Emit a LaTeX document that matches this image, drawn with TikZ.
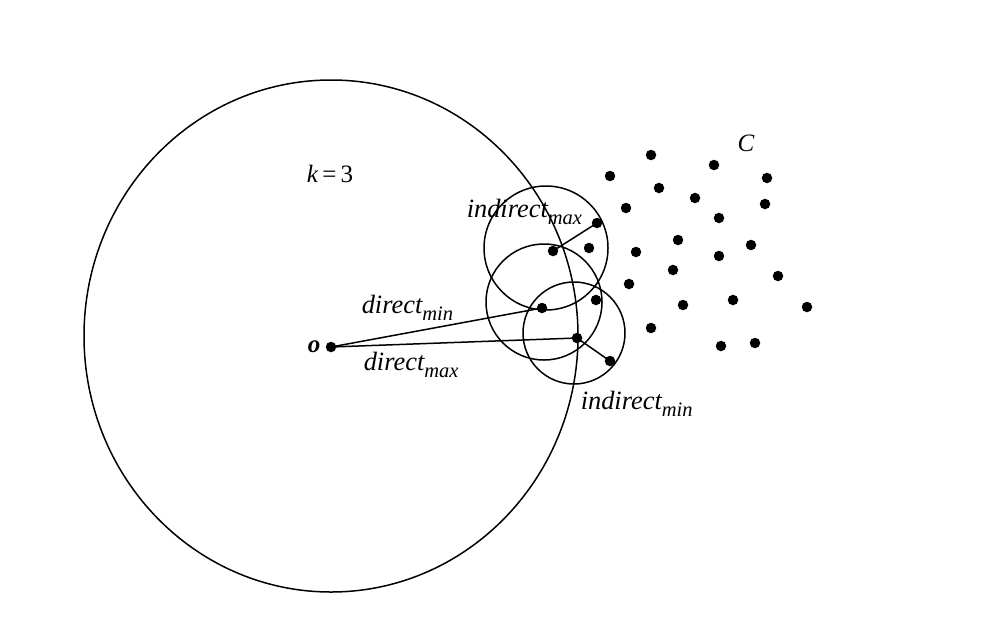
\documentclass[tikz,border=0pt]{standalone}
\usepackage{fontspec}
\setmainfont{Liberation Serif}
\newcommand\subl[2]{#1\raisebox{-7pt}{\fontsize{20.5}{22}\selectfont #2}}
\begin{document}
\begin{tikzpicture}[x=1pt,y=-1pt,line width=1.5pt,
  dot/.style={circle,fill=black,inner sep=0pt,minimum size=10.5pt},
  lbl/.style={font=\fontsize{26.4}{30}\selectfont\itshape,inner sep=0pt,anchor=base west}]
\useasboundingbox (0,0) rectangle (992,640);
% circles
\draw (331,336) ellipse [x radius=247pt, y radius=256pt];
\draw (546,248) circle [radius=62pt];
\draw (544,302) circle [radius=58pt];
\draw (574,333) circle [radius=51pt];
% origin
\node[dot] (o) at (331,347) {};
\node[font=\fontsize{25}{28}\selectfont\bfseries\itshape,inner sep=0pt] (olab) at (314,347) {o};
% path dots
\node[dot] (a1) at (553,251) {};
\node[dot] (a2) at (597,223) {};
\node[dot] (b1) at (542,308) {};
\node[dot] (c1) at (577,338) {};
\node[dot] (c2) at (610,361) {};
% other dots
\foreach \x/\y [count=\i] in {651/155,714/165,610/176,767/178,659/188,695/198,626/208,765/204,719/218,678/240,589/248,636/252,751/245,719/256,673/270,778/276,629/284,596/300,683/305,733/300,807/307,651/328,721/346,755/343}
  \node[dot] (p\i) at (\x,\y) {};
% connectors
\draw (o.center) -- (b1.center);
\draw (o.center) -- (c1.center);
\draw (a1.center) -- (a2.center);
\draw (c1.center) -- (c2.center);
% labels
\node[lbl] (ldmin) at (361,313) {\subl{direct}{min}};
\node[lbl] (ldmax) at (363,370) {\subl{direct}{max}};
\node[lbl] (limax) at (466,217) {\subl{indirect}{max}};
\node[lbl] (limin) at (580,409) {\subl{indirect}{min}};
\node[font=\fontsize{25}{28}\selectfont,inner sep=0pt] (k) at (330,174) {\textit{k}\hspace{4pt}=\hspace{4pt}3};
\node[font=\fontsize{25}{28}\selectfont\itshape,inner sep=0pt] (C) at (746,143) {C};
\end{tikzpicture}
\end{document}
